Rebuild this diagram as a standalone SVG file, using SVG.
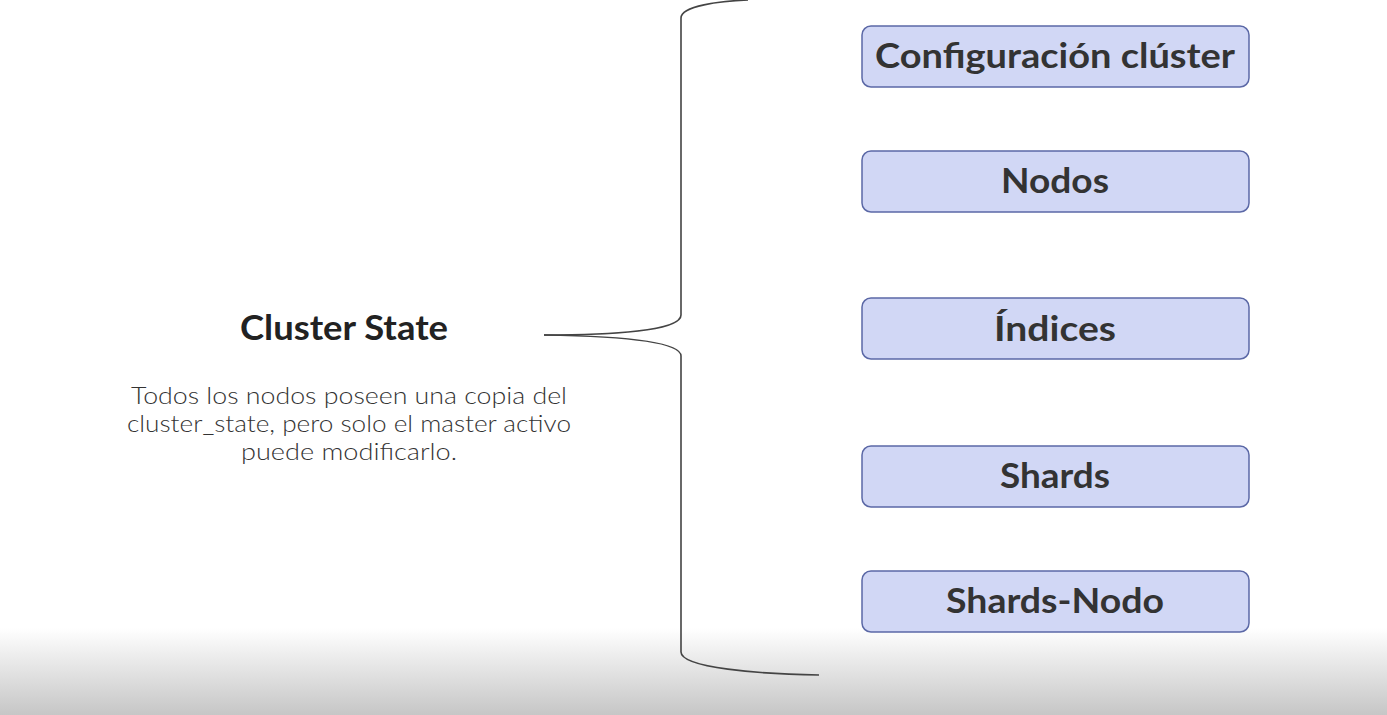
<svg xmlns="http://www.w3.org/2000/svg" width="1387" height="715" viewBox="0 0 1387 715">
<defs>
<linearGradient id="bg" x1="0" y1="0" x2="0" y2="1">
<stop offset="0" stop-color="#ffffff"/>
<stop offset="1" stop-color="#c6c6c6"/>
</linearGradient>
<style>
.box{fill:#d1d7f5;stroke:#5b68a6;stroke-width:1.5}
.lbl{font-family:"Century Gothic","Lato","Liberation Sans",sans-serif;font-weight:bold;font-size:34px;fill:#333333;text-anchor:middle}
.title{font-family:"Century Gothic","Lato","Liberation Sans",sans-serif;font-weight:bold;font-size:35px;fill:#222222;text-anchor:middle}
.body{font-family:"Century Gothic","Lato","Liberation Sans",sans-serif;font-weight:300;font-size:23px;fill:#333333;text-anchor:middle}
.brace{fill:none;stroke:#444444;stroke-width:1.6}
</style>
</defs>
<rect x="0" y="0" width="1387" height="715" fill="#ffffff"/>
<rect x="0" y="628" width="1387" height="87" fill="url(#bg)"/>
<g id="connectors">
<path class="brace" d="M544,335 C610,335 681,331 681,315 L681,18 C681,6 720,1 748,0"/>
<path class="brace" d="M544,335 C610,336 681,340 681,356 L681,652 C681,668 760,674 819,675"/>
</g>
<g id="title">
<text class="title" x="344" y="340" textLength="208" lengthAdjust="spacingAndGlyphs">Cluster State</text>
</g>
<g id="description">
<text class="body" x="349" y="404" textLength="436" lengthAdjust="spacingAndGlyphs">Todos los nodos poseen una copia del</text>
<text class="body" x="349" y="432" textLength="444" lengthAdjust="spacingAndGlyphs">cluster_state, pero solo el master activo</text>
<text class="body" x="349" y="460" textLength="216" lengthAdjust="spacingAndGlyphs">puede modificarlo.</text>
</g>
<g id="node-config">
<rect class="box" x="862" y="26" width="387" height="61" rx="9"/>
<text class="lbl" x="1055" y="68" textLength="360" lengthAdjust="spacingAndGlyphs">Configuración clúster</text>
</g>
<g id="node-nodos">
<rect class="box" x="862" y="151" width="387" height="61" rx="9"/>
<text class="lbl" x="1055" y="193" textLength="108" lengthAdjust="spacingAndGlyphs">Nodos</text>
</g>
<g id="node-indices">
<rect class="box" x="862" y="298" width="387" height="61" rx="9"/>
<text class="lbl" x="1055" y="341" textLength="122" lengthAdjust="spacingAndGlyphs">Índices</text>
</g>
<g id="node-shards">
<rect class="box" x="862" y="446" width="387" height="61" rx="9"/>
<text class="lbl" x="1055" y="488" textLength="110" lengthAdjust="spacingAndGlyphs">Shards</text>
</g>
<g id="node-shards-nodo">
<rect class="box" x="862" y="571" width="387" height="61" rx="9"/>
<text class="lbl" x="1055" y="613" textLength="218" lengthAdjust="spacingAndGlyphs">Shards-Nodo</text>
</g>
</svg>
